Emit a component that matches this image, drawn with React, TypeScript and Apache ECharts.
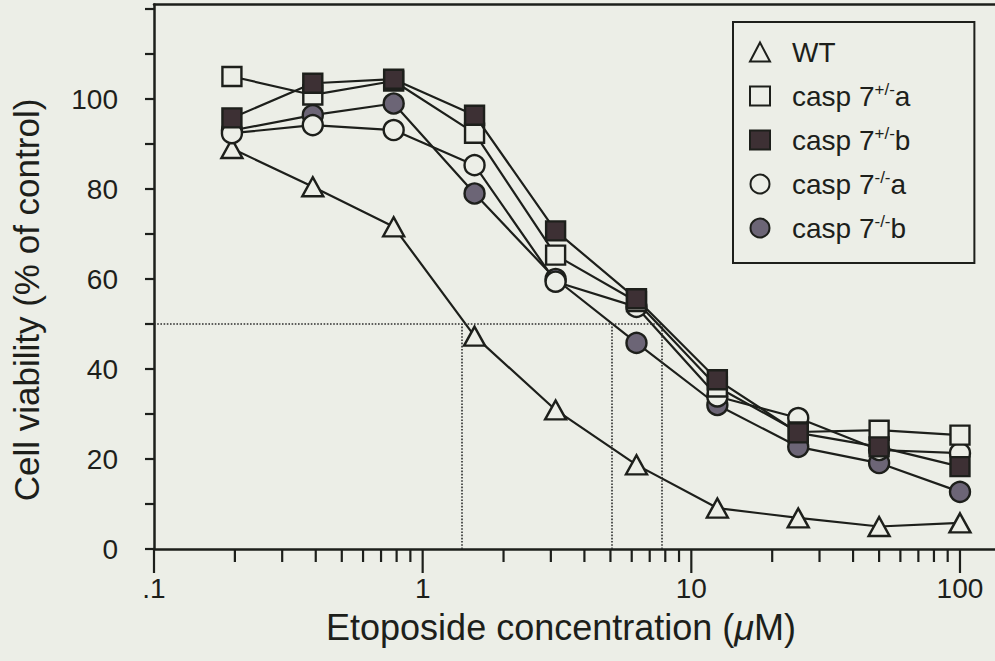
import React, { useEffect, useRef } from "react";
import * as echarts from "echarts";

// Etoposide concentrations (µM)
const concentrations = [0.195, 0.39, 0.78, 1.56, 3.125, 6.25, 12.5, 25, 50, 100];
// Cell viability (% of control)
const wt = [89, 80.5, 71.6, 47.3, 30.9, 18.7, 9.1, 6.9, 5.0, 5.8];
const hetA = [105, 100.9, 104, 92.4, 65.3, 55.0, 36.0, 26.0, 26.4, 25.3];
const hetB = [95.8, 103.5, 104.4, 96.4, 70.7, 55.6, 37.6, 25.8, 22.7, 18.3];
const koA = [92.4, 94.2, 93.1, 85.3, 59.4, 53.8, 33.9, 29.1, 22.0, 21.3];
const koB = [93.0, 96.4, 99.0, 79.0, 60.0, 45.8, 32.0, 22.7, 19.1, 12.7];

// IC50 guide lines (x positions at 50 % viability)
const ic50Values = [1.4, 5.07, 7.73];
const halfViability = 50;

const xMajorTicks = [0.1, 1, 10, 100];
const xMinorTicks = [
  0.2, 0.3, 0.4, 0.5, 0.6, 0.7, 0.8, 0.9,
  2, 3, 4, 5, 6, 7, 8, 9,
  20, 30, 40, 50, 60, 70, 80, 90,
];
const yTicks = [0, 10, 20, 30, 40, 50, 60, 70, 80, 90, 100, 110, 120];
const yLabels = [0, 20, 40, 60, 80, 100];

const seriesNames = ["WT", "casp 7+/-a", "casp 7+/-b", "casp 7-/-a", "casp 7-/-b"];
const legendLabels: Record<string, string> = {
  "WT": "{gap|}WT",
  "casp 7+/-a": "{gap|}casp 7{sup|+/-}a",
  "casp 7+/-b": "{gap|}casp 7{sup|+/-}b",
  "casp 7-/-a": "{gap|}casp 7{sup|-/-}a",
  "casp 7-/-b": "{gap|}casp 7{sup|-/-}b",
};

const BG = "#eceee7";
const INK = "#1d1f1b";
const FONT = "Liberation Sans, Arial, Helvetica, sans-serif";

export default function App() {
  const ref = useRef<HTMLDivElement>(null);

  useEffect(() => {
    if (!ref.current) return;
    const chart = echarts.init(ref.current, undefined, { renderer: "svg" });

    const pairs = (vals: number[]) => concentrations.map((c, i) => [c, vals[i]]);
    const mk = (
      name: string,
      vals: number[],
      symbol: string,
      size: number | number[],
      fill: string,
      z: number
    ) => ({
      type: "line",
      name,
      data: pairs(vals),
      symbol,
      symbolSize: size,
      showAllSymbol: true,
      z,
      lineStyle: { color: INK, width: 2.2 },
      itemStyle: { color: fill, borderColor: INK, borderWidth: 2.4, opacity: 1 },
      emphasis: { disabled: true },
    });

    const tickSeries = (values: number[], len: number) => ({
      type: "custom",
      name: "ticks" + len,
      silent: true,
      clip: false,
      z: 10,
      data: values.map((v) => [v, 0]),
      renderItem: (params: any, api: any) => {
        const p = api.coord([api.value(0), 0]);
        return {
          type: "line",
          shape: { x1: p[0], y1: p[1], x2: p[0], y2: p[1] + len },
          style: { stroke: INK, lineWidth: 2.2 },
        };
      },
    });

    const xBase = { type: "log", logBase: 10, min: 0.1, max: 135, gridIndex: 0 };

    const option: any = {
      animation: false,
      backgroundColor: BG,
      textStyle: { fontFamily: FONT, color: INK },
      grid: { left: 154, right: 0, top: 4.5, bottom: 112, containLabel: false },
      xAxis: [
        {
          ...xBase,
          position: "bottom",
          axisLine: { show: true, onZero: false, lineStyle: { color: INK, width: 2.5 } },
          axisTick: { show: false },
          axisLabel: {
            show: true,
            customValues: xMajorTicks,
            margin: 25,
            fontSize: 28,
            fontFamily: FONT,
            color: INK,
            formatter: (v: number) => (v < 0.5 ? ".1" : String(Math.round(v))),
          },
          splitLine: { show: false },
          minorSplitLine: { show: false },
        },
        {
          ...xBase,
          position: "top",
          axisLine: { show: true, onZero: false, lineStyle: { color: INK, width: 2.5 } },
          axisTick: { show: false },
          axisLabel: { show: false },
          splitLine: { show: false },
        },
      ],
      yAxis: {
        type: "value",
        min: 0,
        max: 121,
        axisLine: { show: true, onZero: false, lineStyle: { color: INK, width: 2.5 } },
        axisTick: { show: true, length: 9, customValues: yTicks, lineStyle: { color: INK, width: 2.2 } },
        axisLabel: { show: true, customValues: yLabels, margin: 36, fontSize: 28, fontFamily: FONT, color: INK },
        splitLine: { show: false },
      },
      legend: {
        orient: "vertical",
        left: 733,
        top: 22,
        data: [
          { name: seriesNames[0], icon: "triangle" },
          { name: seriesNames[1], icon: "rect" },
          { name: seriesNames[2], icon: "rect" },
          { name: seriesNames[3], icon: "circle" },
          { name: seriesNames[4], icon: "circle" },
        ],
        itemWidth: 20,
        itemHeight: 19,
        itemGap: 14,
        selectedMode: false,
        padding: [15, 64, 20, 16],
        borderColor: INK,
        borderWidth: 2,
        backgroundColor: "transparent",
        formatter: (name: string) => legendLabels[name],
        textStyle: {
          fontSize: 28,
          fontFamily: FONT,
          color: INK,
          lineHeight: 30,
          rich: {
            gap: { width: 17, lineHeight: 30 },
            sup: { fontSize: 17, fontFamily: FONT, color: INK, verticalAlign: "top", lineHeight: 30, padding: [0, 0, 12, 0] },
          },
        },
      },
      graphic: [
        {
          type: "text",
          x: 561,
          y: 627,
          style: {
            text: "Etoposide concentration ({mu|\u03BC}M)",
            fontSize: 36,
            fontFamily: FONT,
            fill: INK,
            align: "center",
            verticalAlign: "middle",
            rich: { mu: { fontSize: 36, fontFamily: FONT, fontStyle: "italic", fill: INK } },
          },
        },
        {
          type: "text",
          x: 26,
          y: 300,
          rotation: Math.PI / 2,
          style: {
            text: "Cell viability (% of control)",
            fontSize: 35,
            fontFamily: FONT,
            fill: INK,
            align: "center",
            verticalAlign: "middle",
          },
        },
      ],
      series: [
        {
          type: "line",
          name: "IC50 guides",
          data: [[xMajorTicks[0], halfViability]],
          symbol: "none",
          lineStyle: { width: 0 },
          silent: true,
          z: 1,
          markLine: {
            silent: true,
            symbol: ["none", "none"],
            label: { show: false },
            lineStyle: { type: "dotted", color: "#2e2e2e", width: 1.6 },
            data: [
              [{ coord: [xMajorTicks[0], halfViability] }, { coord: [ic50Values[2], halfViability] }],
              ...ic50Values.map((v) => [{ coord: [v, 0] }, { coord: [v, halfViability] }]),
            ],
          },
        },
        tickSeries(xMajorTicks, 24),
        tickSeries(xMinorTicks, 13),
        mk(seriesNames[0], wt, "triangle", [21, 19], BG, 2),
        mk(seriesNames[4], koB, "circle", 20, "#6c6576", 3),
        mk(seriesNames[3], koA, "circle", 20, BG, 4),
        mk(seriesNames[1], hetA, "rect", 19, BG, 5),
        mk(seriesNames[2], hetB, "rect", 19, "#3d3034", 6),
      ],
    };

    chart.setOption(option);
    return () => chart.dispose();
  }, []);

  return (
    <div
      ref={ref}
      style={{ position: "fixed", left: 0, top: 0, width: 995, height: 661, background: BG }}
    />
  );
}
